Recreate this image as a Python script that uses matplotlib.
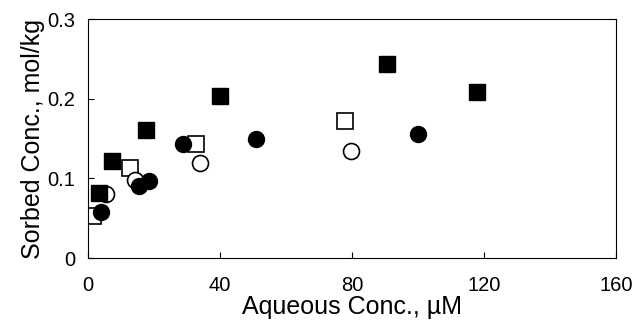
import matplotlib
matplotlib.use("Agg")
import matplotlib.pyplot as plt

plt.rcParams['font.family'] = ['Liberation Sans', 'DejaVu Sans']

# filled squares
fsq_x = [3.3, 7.3, 17.6, 40, 90.6, 118]
fsq_y = [0.082, 0.122, 0.161, 0.203, 0.244, 0.209]
# open squares
osq_x = [1.6, 12.7, 32.7, 78]
osq_y = [0.053, 0.113, 0.143, 0.172]
# open circles
ocir_x = [5.5, 14.2, 34, 79.6]
ocir_y = [0.080, 0.098, 0.119, 0.135]
# filled circles
fcir_x = [3.9, 15.5, 18.6, 28.9, 51, 100]
fcir_y = [0.058, 0.091, 0.097, 0.143, 0.149, 0.156]

fig = plt.figure(figsize=(6.33, 3.28), dpi=100)
ax = fig.add_axes([0.139, 0.213, 0.834, 0.729])

ax.plot(osq_x, osq_y, 's', ms=12, mfc='white', mec='black', mew=1.2, ls='none')
ax.plot(ocir_x, ocir_y, 'o', ms=11.5, mfc='white', mec='black', mew=1.2, ls='none')
ax.plot(fsq_x, fsq_y, 's', ms=12, color='black', ls='none')
ax.plot(fcir_x, fcir_y, 'o', ms=11.5, color='black', ls='none')

ax.set_xlim(0, 160)
ax.set_ylim(0, 0.3)
ax.set_xticks([0, 40, 80, 120, 160])
ax.set_yticks([0, 0.1, 0.2, 0.3])
ax.set_yticklabels(['0', '0.1', '0.2', '0.3'])
ax.tick_params(direction='in', labelsize=14.5, length=4)
ax.tick_params(axis='x', pad=13)
ax.tick_params(axis='y', pad=9)
ax.set_xlabel('Aqueous Conc., µM', fontsize=18, labelpad=0)
ax.set_ylabel('Sorbed Conc., mol/kg', fontsize=18, labelpad=2)

fig.savefig('out.png', dpi=100)
